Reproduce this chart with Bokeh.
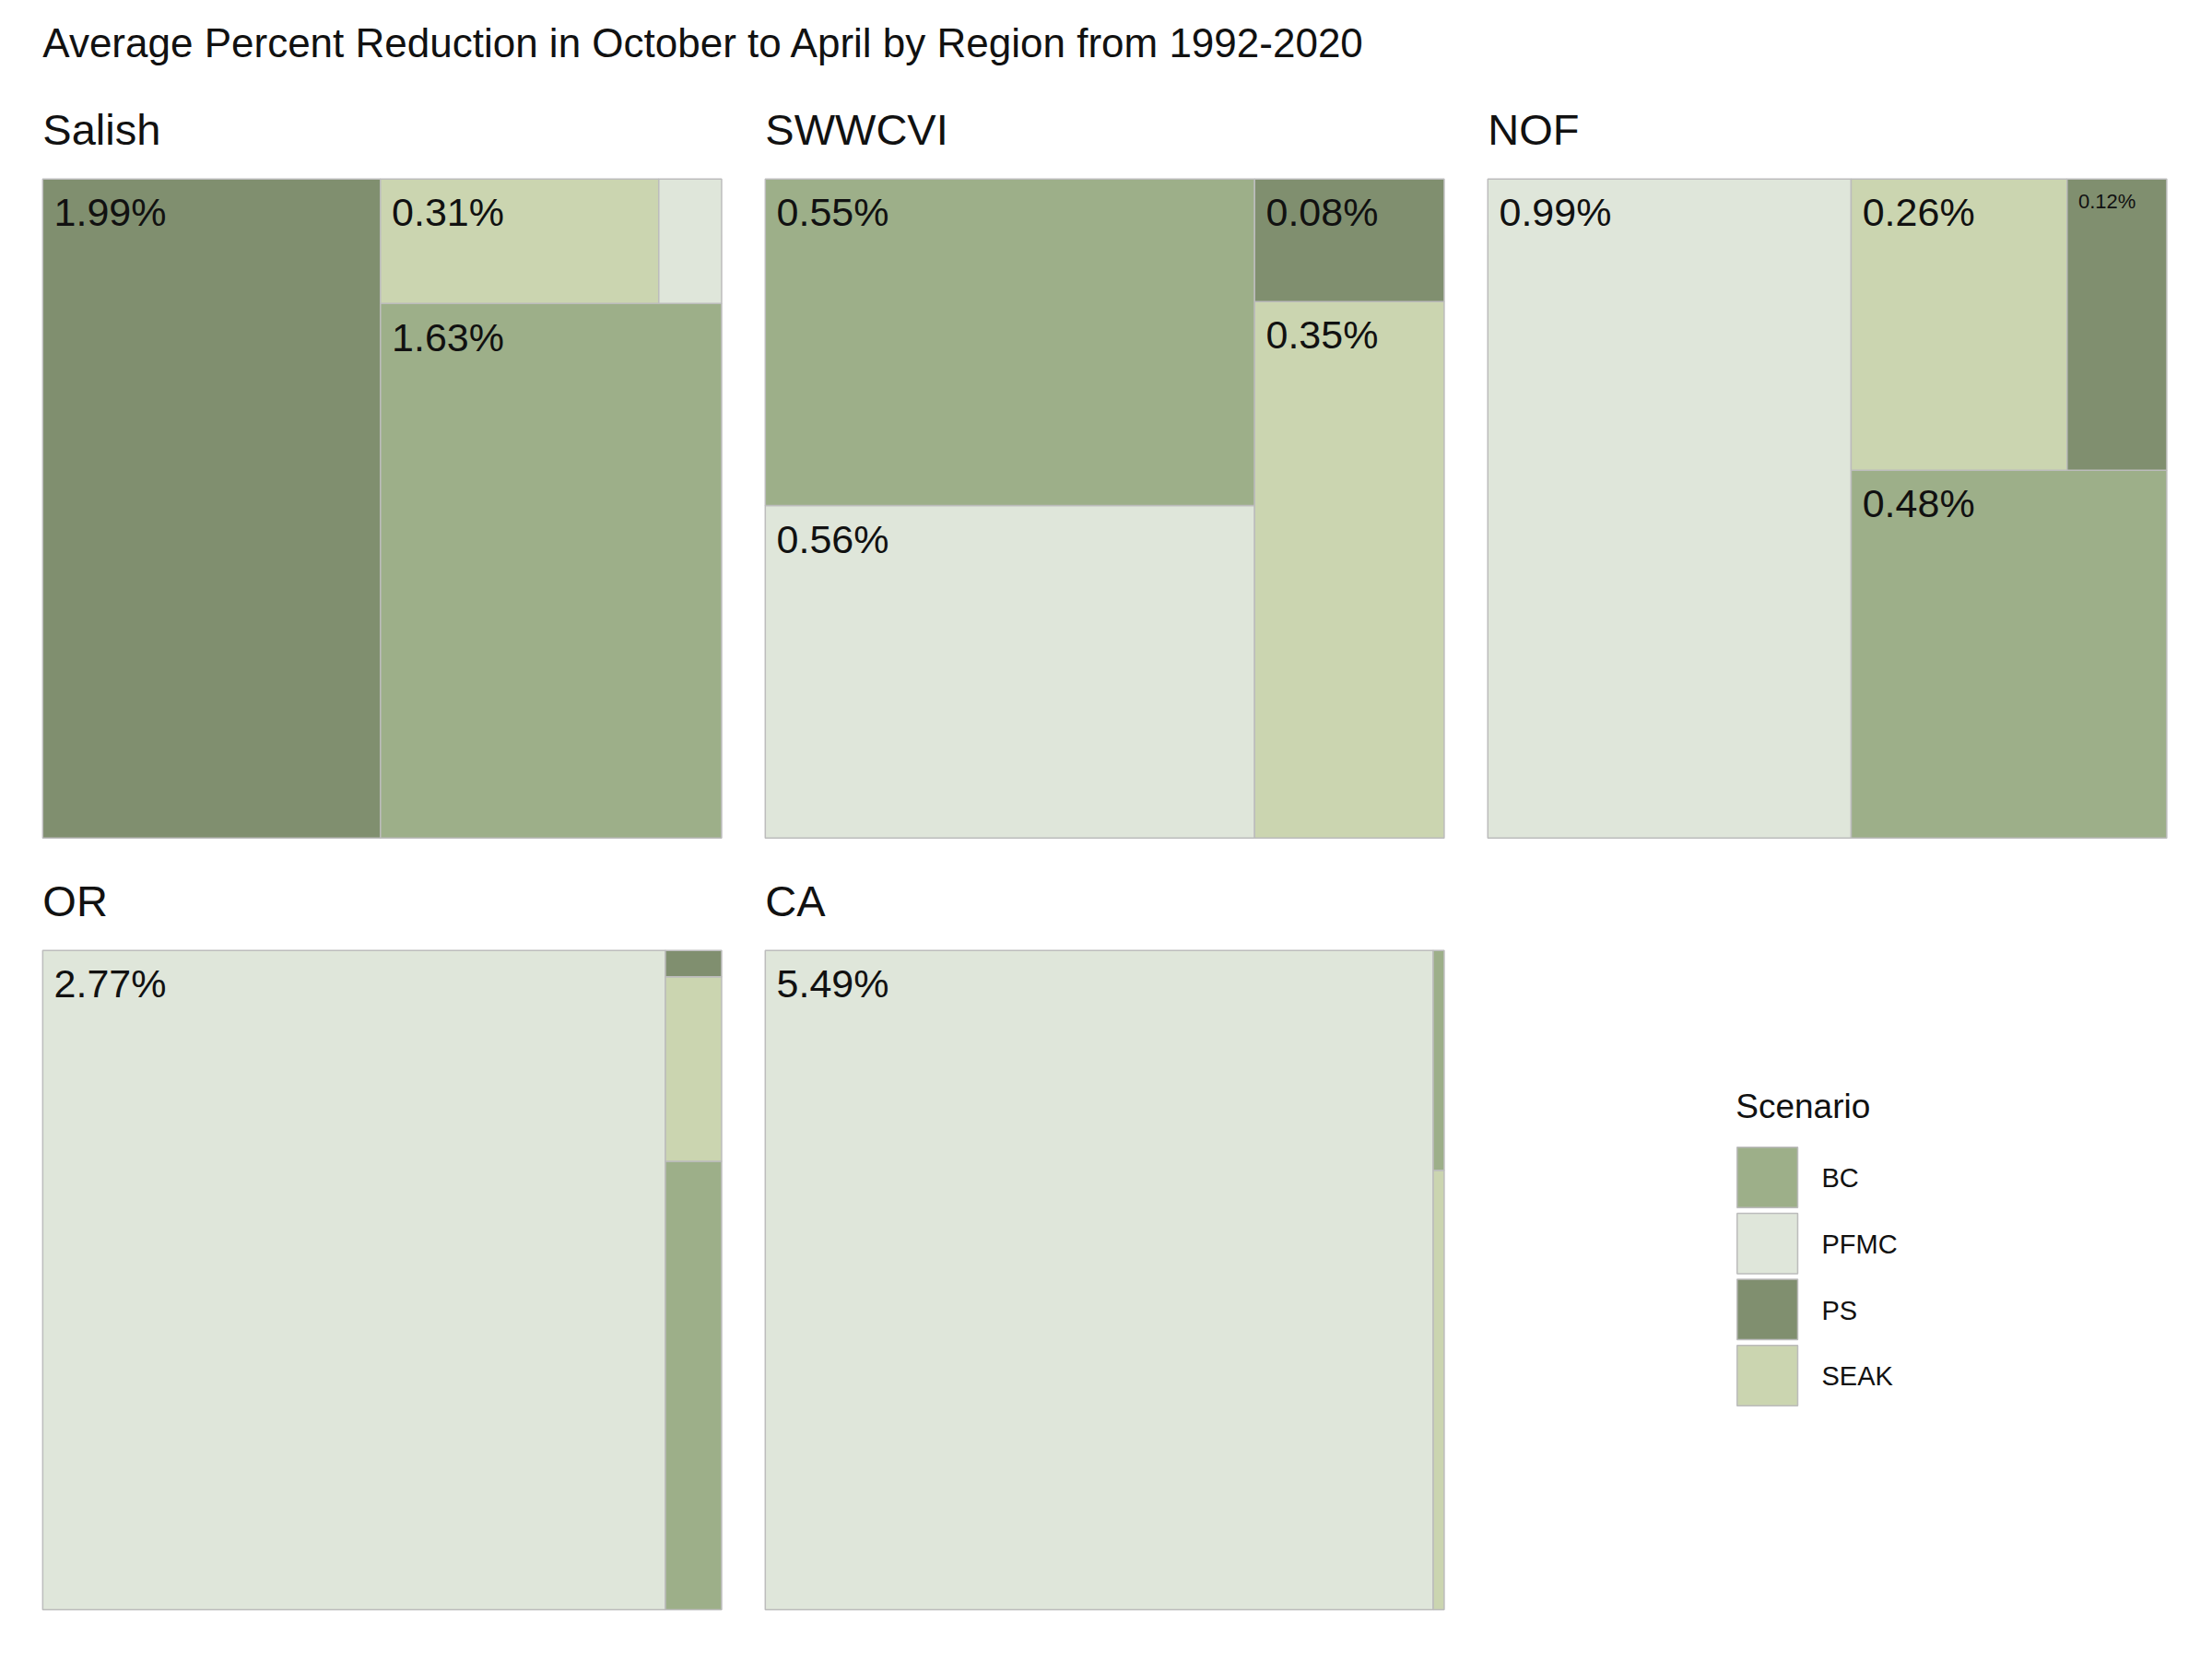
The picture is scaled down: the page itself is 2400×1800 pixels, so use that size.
from bokeh.plotting import figure
from bokeh.models import Range1d
from bokeh.core.properties import value
from bokeh.embed import file_html
from bokeh.resources import INLINE

# data: average percent reduction by region and scenario
regions = ["Salish", "SWWCVI", "NOF", "OR", "CA"]
scenarios = ["BC", "PFMC", "PS", "SEAK"]
bc = [1.63, 0.55, 0.48, 0.17, 0.03]
pfmc = [0.07, 0.56, 0.99, 2.77, 5.49]
ps = [1.99, 0.08, 0.12, 0.01, 0.00]
seak = [0.31, 0.35, 0.26, 0.07, 0.06]
colors = {"BC": "#9daf89", "PFMC": "#dfe6da", "PS": "#808f6f", "SEAK": "#cbd5b0"}

FONT = value("Liberation Sans")


def worst(row, side):
    s = sum(r for _, r in row)
    return max(max(side * side * r / (s * s), s * s / (side * side * r)) for _, r in row)


def squarify(items, x0, y0, w, h):
    # items: list of (name, value); local coordinates with y pointing up
    items = [it for it in sorted(items, key=lambda t: -t[1]) if it[1] > 0]
    total = sum(v for _, v in items)
    items = [(n, v * w * h / total) for n, v in items]
    out = []
    while items:
        side = min(w, h)
        row = [items[0]]
        i = 1
        while i < len(items) and worst(row + [items[i]], side) <= worst(row, side):
            row.append(items[i])
            i += 1
        items = items[i:]
        s = sum(a for _, a in row)
        if w >= h:
            cw = s / h
            yy = y0
            for n, a in row:
                hh = a / cw
                out.append((n, x0, yy, cw, hh))
                yy += hh
            x0 += cw
            w -= cw
        else:
            rh = s / w
            xx = x0
            for n, a in row:
                ww = a / rh
                out.append((n, xx, y0, ww, rh))
                xx += ww
            y0 += rh
            h -= rh
    return out


p = figure(width=2384, height=1784, output_backend="svg", toolbar_location=None,
           x_range=Range1d(0, 1560), y_range=Range1d(1170, 0))
p.axis.visible = False
p.grid.visible = False
p.outline_line_color = None
p.min_border = 0

S = 2384 / 1560  # px per data unit

p.text([30], [30], text=["Average Percent Reduction in October to April by Region from 1992-2020"],
       text_font=FONT, text_font_size=f"{29 * S:.0f}px", text_baseline="middle", text_color="#111111")

panel_x = [30, 543, 1056, 30, 543]
panel_y = [127, 127, 127, 676, 676]
PW, PH = 482, 469

L, R, T, B, C = [], [], [], [], []
lx, ly, lt, ls = [], [], [], []
for k, reg in enumerate(regions):
    vals = {"BC": bc[k], "PFMC": pfmc[k], "PS": ps[k], "SEAK": seak[k]}
    px, py = panel_x[k], panel_y[k]
    p.text([px], [py - 35], text=[reg], text_font=FONT, text_font_size=f"{31 * S:.0f}px",
           text_baseline="middle", text_color="#111111")
    for n, x, y, w, h in squarify(list(vals.items()), 0, 0, PW, PH):
        left, right = px + x, px + x + w
        top, bottom = py + PH - (y + h), py + PH - y
        L.append(left); R.append(right); T.append(top); B.append(bottom); C.append(colors[n])
        lab = f"{vals[n]:.2f}%"
        if w >= 115 and h >= 45:
            f = 28
        else:
            f = (w - 12) / 4.1
            if f < 10 or h < f + 12:
                continue
        lx.append(left + 8); ly.append(top + 8); lt.append(lab); ls.append(f"{f * S:.0f}px")

p.quad(left=L, right=R, top=T, bottom=B, fill_color=C, line_color="#bcbcbc", line_width=1.5)
p.text(lx, ly, text=lt, text_font=FONT, text_font_size=ls, text_baseline="top",
       text_align="left", text_color="#111111")

# legend
p.text([1232], [787], text=["Scenario"], text_font=FONT, text_font_size=f"{24 * S:.0f}px",
       text_baseline="middle", text_color="#111111")
ky = [816 + 47 * i for i in range(len(scenarios))]
p.quad(left=[1233] * 4, right=[1276] * 4, top=ky, bottom=[y + 43 for y in ky],
       fill_color=[colors[s] for s in scenarios], line_color="#bcbcbc", line_width=1.5)
p.text([1293] * 4, [y + 22 for y in ky], text=scenarios, text_font=FONT,
       text_font_size=f"{19 * S:.0f}px", text_baseline="middle", text_color="#111111")

open("out.html", "w").write(file_html(p, INLINE))
